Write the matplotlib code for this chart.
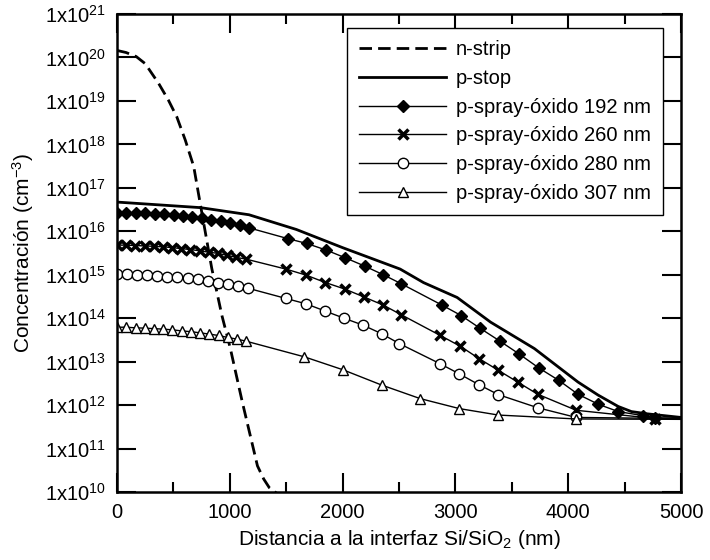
import numpy as np
import matplotlib
matplotlib.use("Agg")
import matplotlib.pyplot as plt
from matplotlib.ticker import FixedLocator, FixedFormatter, MultipleLocator, NullLocator

plt.rcParams['font.family'] = ['Liberation Sans', 'DejaVu Sans']
plt.rcParams['mathtext.fontset'] = 'custom'
plt.rcParams['mathtext.rm'] = 'Liberation Sans'
plt.rcParams['mathtext.it'] = 'Liberation Sans:italic'
plt.rcParams['mathtext.bf'] = 'Liberation Sans:bold'

# data (x in nm, concentration in cm^-3)
nstrip_x = [0, 80, 170, 250, 370, 455, 530, 605, 680, 740, 840, 930, 1005, 1110, 1245, 1300, 1350, 1450]
nstrip_y = [1.45e20, 1.3e20, 1.05e20, 7.2e19, 2.5e19, 1.05e19, 4.3e18, 1.26e18, 3.1e17, 4.0e16,
            1.4e15, 1.15e14, 2.0e13, 1.2e12, 4.0e10, 2.0e10, 1.26e10, 8.0e9]

pstop_x = [0, 740, 1170, 1590, 2000, 2510, 2717, 3015, 3312, 3700, 4086, 4265, 4443, 4560, 4700, 5000]
pstop_y = [4.7e16, 3.5e16, 2.4e16, 1.1e16, 4.2e15, 1.35e15, 6.6e14, 3.0e14, 8.1e13, 2.0e13,
           3.4e12, 1.7e12, 9.3e11, 7.1e11, 6.3e11, 5.2e11]

# p-spray, oxide 192 nm (diamonds)
ox192_x = [0, 84, 167, 251, 334, 418, 501, 585, 668, 752, 836, 919, 1003, 1086, 1170,
           1512, 1681, 1854, 2024, 2196, 2360, 2520, 2881, 3051, 3217, 3396, 3565, 3738,
           3917, 4086, 4265, 4443, 4667, 4771, 5000]
ox192_y = [2.63e16, 2.63e16, 2.57e16, 2.57e16, 2.51e16, 2.45e16, 2.34e16, 2.24e16, 2.14e16, 2.0e16,
           1.86e16, 1.7e16, 1.55e16, 1.38e16, 1.2e16,
           6.8e15, 5.25e15, 3.7e15, 2.45e15, 1.58e15, 1.0e15, 6.2e14, 2.0e14, 1.15e14, 5.9e13,
           2.95e13, 1.5e13, 7.2e12, 3.7e12, 1.78e12, 1.05e12, 7.1e11, 5.7e11, 5.1e11, 5.0e11]

# p-spray, oxide 260 nm (crosses)
ox260_x = [0, 81, 163, 244, 326, 407, 489, 570, 651, 733, 814, 896, 977, 1059, 1140,
           1497, 1676, 1848, 2018, 2187, 2360, 2520, 2866, 3045, 3208, 3381, 3551, 3729,
           4071, 4771, 5000]
ox260_y = [4.8e15, 4.8e15, 4.7e15, 4.6e15, 4.5e15, 4.4e15, 4.2e15, 4.0e15, 3.8e15, 3.55e15,
           3.3e15, 3.1e15, 2.8e15, 2.5e15, 2.3e15,
           1.35e15, 9.8e14, 6.6e14, 4.7e14, 3.1e14, 2.0e14, 1.2e14, 4.0e13, 2.25e13, 1.18e13,
           6.3e12, 3.4e12, 1.78e12, 7.6e11, 4.9e11, 4.9e11]

# p-spray, oxide 280 nm (open circles)
ox280_x = [0, 89, 178, 268, 357, 446, 535, 625, 714, 803, 892, 982, 1071, 1160,
           1497, 1676, 1848, 2012, 2182, 2345, 2503, 2866, 3036, 3208, 3381, 3729, 4071, 5000]
ox280_y = [1.02e15, 1.02e15, 1.0e15, 9.8e14, 9.5e14, 9.1e14, 8.7e14, 8.3e14, 7.8e14, 7.2e14,
           6.6e14, 6.0e14, 5.5e14, 4.9e14,
           2.85e14, 2.14e14, 1.45e14, 1.0e14, 6.9e13, 4.4e13, 2.6e13, 8.9e12, 5.2e12, 2.95e12,
           1.74e12, 8.7e11, 5.2e11, 4.9e11]

# p-spray, oxide 307 nm (open triangles)
ox307_x = [0, 82, 164, 246, 327, 409, 491, 573, 655, 737, 819, 900, 982, 1064, 1146,
           1661, 2003, 2345, 2688, 3036, 3381, 4071, 5000]
ox307_y = [6.2e13, 6.2e13, 6.0e13, 5.9e13, 5.75e13, 5.6e13, 5.4e13, 5.1e13, 4.9e13, 4.6e13,
           4.3e13, 4.0e13, 3.6e13, 3.3e13, 2.95e13,
           1.29e13, 6.5e12, 2.9e12, 1.41e12, 8.3e11, 5.9e11, 4.8e11, 4.7e11]

ytick_vals = [1e10, 1e11, 1e12, 1e13, 1e14, 1e15, 1e16, 1e17, 1e18, 1e19, 1e20, 1e21]
ytick_labels = ['1x10$^{10}$', '1x10$^{11}$', '1x10$^{12}$', '1x10$^{13}$', '1x10$^{14}$',
                '1x10$^{15}$', '1x10$^{16}$', '1x10$^{17}$', '1x10$^{18}$', '1x10$^{19}$',
                '1x10$^{20}$', '1x10$^{21}$']

fig = plt.figure(figsize=(7.1, 5.6), dpi=100)
ax = fig.add_axes([0.1648, 0.1214, 0.7944, 0.8536])

ax.plot(nstrip_x, nstrip_y, color='black', lw=2.0, ls=(0, (4.5, 2.2)), label='n-strip')
ax.plot(pstop_x, pstop_y, color='black', lw=2.0, label='p-stop')
ax.plot(ox192_x, ox192_y, color='black', lw=1.0, marker='D', ms=6, mfc='black',
        markevery=slice(0, -1), label='p-spray-óxido 192 nm')
ax.plot(ox260_x, ox260_y, color='black', lw=1.0, marker='x', ms=7.5, mew=2.5,
        markevery=slice(0, -1), label='p-spray-óxido 260 nm')
ax.plot(ox280_x, ox280_y, color='black', lw=1.0, marker='o', ms=7.5, mfc='white', mew=1.0,
        markevery=slice(0, -1), label='p-spray-óxido 280 nm')
ax.plot(ox307_x, ox307_y, color='black', lw=1.0, marker='^', ms=7, mfc='white', mew=1.0,
        markevery=slice(0, -1), label='p-spray-óxido 307 nm')

ax.set_yscale('log')
ax.set_xlim(0, 5000)
ax.set_ylim(1e10, 1e21)
ax.yaxis.set_major_locator(FixedLocator(ytick_vals))
ax.yaxis.set_major_formatter(FixedFormatter(ytick_labels))
ax.yaxis.set_minor_locator(NullLocator())
ax.xaxis.set_major_locator(MultipleLocator(1000))
ax.xaxis.set_minor_locator(MultipleLocator(500))

ax.tick_params(which='both', direction='in', top=True, right=True, labelsize=14.5, width=1.5)
ax.tick_params(which='major', length=14, pad=8)
ax.tick_params(which='minor', length=7.5)
for s in ax.spines.values():
    s.set_linewidth(1.8)

ax.set_xlabel('Distancia a la interfaz Si/SiO$_2$ (nm)', fontsize=15, labelpad=4)
ax.set_ylabel('Concentración (cm$^{-3}$)', fontsize=15, labelpad=6)

leg = ax.legend(loc='upper right', bbox_to_anchor=(0.968, 0.970), borderaxespad=0,
                fontsize=14.5, frameon=True, fancybox=False, edgecolor='black', framealpha=1,
                handlelength=4.3, handletextpad=0.5, labelspacing=0.48, borderpad=0.6)
leg.get_frame().set_linewidth(1.0)

fig.savefig('out.png', dpi=100)
